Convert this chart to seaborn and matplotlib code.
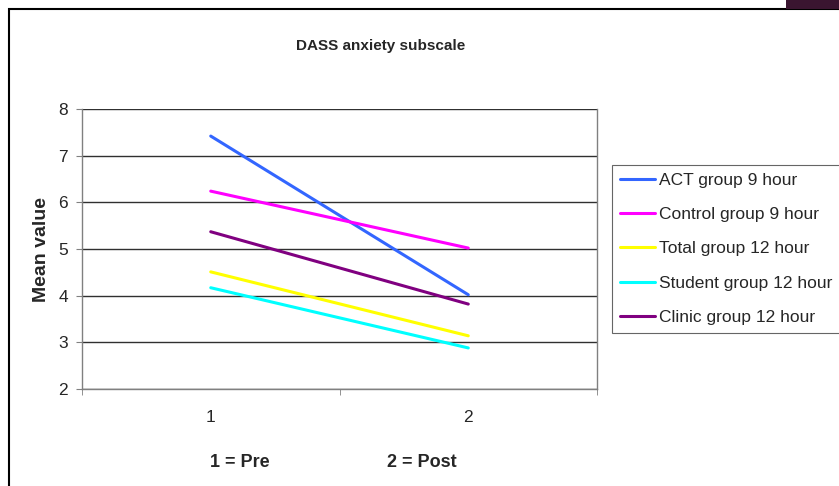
import matplotlib
matplotlib.use("Agg")
import matplotlib.pyplot as plt
import matplotlib.patches as patches
import seaborn as sns
import pandas as pd

# mean DASS anxiety values
groups = ["ACT group 9 hour", "Control group 9 hour", "Total group 12 hour",
          "Student group 12 hour", "Clinic group 12 hour"]
times = [1, 2]
act = [7.42, 4.02]
control = [6.24, 5.02]
total = [4.51, 3.14]
student = [4.17, 2.88]
clinic = [5.37, 3.82]
colors = ["#3366FF", "#FF00FF", "#FFFF00", "#00FFFF", "#800080"]

rows = []
for g, vals in zip(groups, [act, control, total, student, clinic]):
    for t, v in zip(times, vals):
        rows.append({"time": t, "value": v, "group": g})
df = pd.DataFrame(rows)

sns.set_style("white")
plt.rcParams["font.family"] = ["Liberation Sans", "DejaVu Sans"]

fig = plt.figure(figsize=(8.39, 4.86), dpi=100)
ax = fig.add_axes([0.0977, 0.1996, 0.6139, 0.5761])

sns.lineplot(data=df, x="time", y="value", hue="group", palette=colors,
             hue_order=groups, linewidth=2.2, ax=ax, legend=True)

ax.set_xlim(0.5, 2.5)
ax.set_ylim(2, 8)
ax.set_yticks(range(2, 9))
ax.yaxis.grid(True, color="#303030", linewidth=1.0)
ax.set_axisbelow(True)
ax.spines["top"].set_visible(False)
for s in ["left", "bottom", "right"]:
    ax.spines[s].set_color("#808080")
    ax.spines[s].set_linewidth(1.0)

ax.set_xticks([1, 2])
ax.set_xticklabels(["1", "2"], fontsize=12.5)
ax.set_xticks([0.5, 1.5, 2.5], minor=True)
ax.tick_params(axis="x", which="major", length=0, pad=15)
ax.tick_params(axis="x", which="minor", length=4, direction="out", color="#808080", bottom=True)
ax.tick_params(axis="y", length=4, pad=6, direction="out", color="#808080", labelsize=12.5, left=True)

ax.set_xlabel("")
ax.set_ylabel("Mean value", fontsize=14, fontweight="bold", labelpad=6)

fig.text(381 / 839, 1 - 46 / 486, "DASS anxiety subscale", ha="center", va="center",
         fontsize=11, fontweight="bold")

fig.text(240 / 839, 1 - 462 / 486, "1 = Pre", ha="center", va="center",
         fontsize=13, fontweight="bold")
fig.text(422 / 839, 1 - 462 / 486, "2 = Post", ha="center", va="center",
         fontsize=13, fontweight="bold")

leg = ax.legend(loc="upper left", bbox_to_anchor=(612 / 839, 1 - 165 / 486),
                bbox_transform=fig.transFigure, frameon=True, fancybox=False,
                fontsize=12.5, handlelength=2.0, handletextpad=0.25,
                labelspacing=1.1, borderpad=0.45, borderaxespad=0)
leg.get_frame().set_edgecolor("#404040")
leg.get_frame().set_linewidth(0.8)
for line in leg.get_lines():
    line.set_linewidth(2.2)

# outer chart border and the dark corner at the top right
fig.add_artist(patches.Rectangle((9 / 839, -0.1), 1.2, 1 - 9 / 486 + 0.1,
                                 transform=fig.transFigure, fill=False,
                                 edgecolor="black", linewidth=1.5))
fig.add_artist(patches.Rectangle((786 / 839, 1 - 9 / 486), 60 / 839, 9 / 486,
                                 transform=fig.transFigure, facecolor="#3a1530",
                                 edgecolor="none"))

fig.savefig("out.png", dpi=100)
